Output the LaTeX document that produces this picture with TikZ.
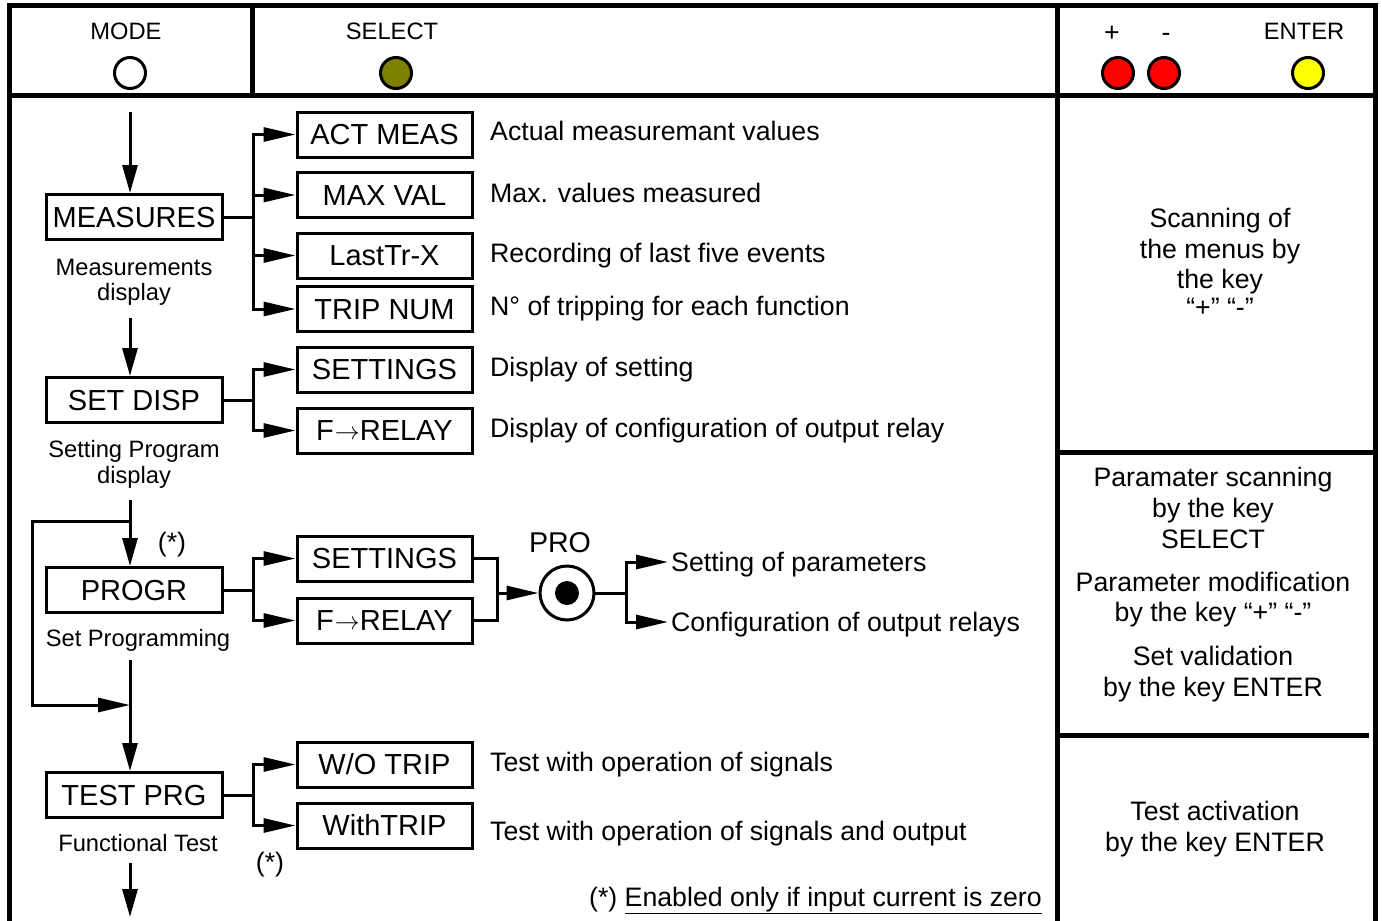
\documentclass[tikz,border=0pt]{standalone}
\usepackage{fontspec}
\setmainfont{Liberation Sans}
\usetikzlibrary{arrows.meta}
\definecolor{olivekey}{RGB}{128,128,0}
\definecolor{redkey}{RGB}{255,0,0}
\definecolor{yellowkey}{RGB}{255,255,0}
\newcommand{\frarrow}{\kern1pt\raisebox{1.5pt}{\fontsize{24}{24}\selectfont$\rightarrow$}\kern0pt}
\begin{document}
\begin{tikzpicture}[x=1pt,y=-1pt,
  frame/.style={line width=5pt, line join=miter},
  box/.style={draw, line width=3pt, minimum width=176pt, minimum height=45pt, inner sep=0pt,
    font=\fontsize{29}{30}\selectfont, text height=20.5pt, text depth=0pt},
  subbox/.style={box, minimum width=175pt},
  conn/.style={line width=3pt, line cap=rect},
  arr/.style={line width=3pt, -{Triangle[length=32pt,width=14pt]}},
  varr/.style={line width=3pt, -{Triangle[length=28pt,width=15pt]}},
  desc/.style={anchor=base west, inner sep=0pt, font=\fontsize{26.7}{31}\selectfont},
  desctip/.style={anchor=west, inner xsep=3pt, inner ysep=0pt, text height=19pt, text depth=0pt,
    font=\fontsize{26.7}{31}\selectfont},
  ctext/.style={anchor=base, inner sep=0pt, font=\fontsize{26.7}{31}\selectfont},
  small/.style={anchor=base, inner sep=0pt, font=\fontsize{23.7}{27}\selectfont},
  lamp/.style={circle, draw, line width=3pt, minimum size=31pt, inner sep=0pt},
]
\useasboundingbox (0,0) rectangle (1382,921);
\fill[white] (0,0) rectangle (1382,921);

% frame
\draw[frame] (9,921) -- (9,5) -- (1375,5) -- (1375,921);
\draw[frame] (9,95) -- (1375,95);
\draw[frame] (252,5) -- (252,95);
\draw[frame] (1057,5) -- (1057,921);
\draw[frame] (1057,452) -- (1375,452);
\draw[frame] (1057,735) -- (1369,735);

% header
\node[small] (lmode) at (126,39) {MODE};
\node[lamp, fill=white] (kmode) at (130,73) {};
\node[small] (lsel) at (392,39) {SELECT};
\node[lamp, fill=olivekey] (ksel) at (396,73) {};
\node[ctext] (lplus) at (1112,41) {+};
\node[ctext] (lminus) at (1166,41) {-};
\node[small] (lenter) at (1304,39) {ENTER};
\node[lamp, fill=redkey] (kplus) at (1118,73) {};
\node[lamp, fill=redkey] (kminus) at (1164,73) {};
\node[lamp, fill=yellowkey] (kenter) at (1308,73) {};

% main boxes
\node[box] (meas) at (134,217) {MEASURES};
\node[box] (setd) at (134,400) {SET DISP};
\node[box] (progr) at (134,590) {PROGR};
\node[box] (test) at (134,795) {TEST PRG};

\node[small] (m1a) at (134,275) {Measurements};
\node[small] (m1b) at (134,300) {display};
\node[small] (s1a) at (134,457) {Setting Program};
\node[small] (s1b) at (134,483) {display};
\node[small] (p1a) at (138,646) {Set Programming};
\node[small] (f1a) at (138,851) {Functional Test};
\node[ctext] (star1) at (172,551) {(*)};
\node[ctext] (star2) at (270,871) {(*)};

% sub boxes
\node[subbox] (act) at (384.5,134.5) {ACT MEAS};
\node[subbox] (maxv) at (384.5,195) {MAX VAL};
\node[subbox] (last) at (384.5,255.5) {LastTr-X};
\node[subbox] (tripn) at (384.5,309) {TRIP NUM};
\node[subbox] (sett1) at (384.5,369.5) {SETTINGS};
\node[subbox] (frel1) at (384.5,430.5) {F\frarrow RELAY};
\node[subbox] (sett2) at (384.5,558.5) {SETTINGS};
\node[subbox] (frel2) at (384.5,620.5) {F\frarrow RELAY};
\node[subbox] (wo) at (384.5,764.5) {W/O TRIP};
\node[subbox] (with) at (384.5,825.5) {WithTRIP};

% descriptions
\node[desc] (d1) at (490,140) {Actual measuremant values};
\node[desc] (d2) at (490,202) {Max. values measured};
\node[desc] (d3) at (490,262) {Recording of last five events};
\node[desc] (d4) at (490,315) {N° of tripping for each function};
\node[desc] (d5) at (490,376) {Display of setting};
\node[desc] (d6) at (490,437) {Display of configuration of output relay};
\node[desc] (d7) at (490,771) {Test with operation of signals};
\node[desc] (d8) at (490,840) {Test with operation of signals and output};

% vertical flow
\coordinate (t0) at (130,112);
\draw[varr] (t0) -- (meas.north -| t0);
\coordinate (t1) at (130,318);
\draw[varr] (t1) -- (setd.north -| t1);
\coordinate (t2) at (130,500);
\draw[varr] (t2) -- (progr.north -| t2);
\coordinate (t3) at (130,660);
\draw[varr] (t3) -- (test.north -| t3);
\coordinate (t4) at (130,863);
\coordinate (t5) at (130,917);
\draw[varr] (t4) -- (t5);
% loop
\coordinate (lp1) at (130,521);
\coordinate (lp2) at (130,705);
\coordinate (lx) at (32,0);
\draw[arr, line join=miter] (lp1) -- (lp1 -| lx) -- (lp2 -| lx) -- (lp2);

% branches: measures
\draw[conn] (meas.east) -- ++(30,0) coordinate (b1);
\draw[conn] (act.west -| b1) -- (tripn.west -| b1);
\foreach \n in {act,maxv,last,tripn} \draw[arr] (\n.west -| b1) -- (\n.west);
% set disp
\draw[conn] (setd.east) -- ++(30,0) coordinate (b2);
\draw[conn] (sett1.west -| b2) -- (frel1.west -| b2);
\foreach \n in {sett1,frel1} \draw[arr] (\n.west -| b2) -- (\n.west);
% progr
\draw[conn] (progr.east) -- ++(30,0) coordinate (b3);
\draw[conn] (sett2.west -| b3) -- (frel2.west -| b3);
\foreach \n in {sett2,frel2} \draw[arr] (\n.west -| b3) -- (\n.west);
% test
\draw[conn] (test.east) -- ++(30,0) coordinate (b4);
\draw[conn] (wo.west -| b4) -- (with.west -| b4);
\foreach \n in {wo,with} \draw[arr] (\n.west -| b4) -- (\n.west);

% PRO
\node[circle, draw, line width=3pt, minimum size=54pt, inner sep=0pt] (pro) at (567,593) {};
\node[circle, fill, minimum size=24pt, inner sep=0pt] (proin) at (pro.center) {};
\node[anchor=base, inner sep=0pt, font=\fontsize{28.6}{30}\selectfont] (prol) at (560,552) {PRO};
\draw[conn, line join=miter] (sett2.east) -- ++(24,0) coordinate (mg) -- (mg |- frel2.east) -- (frel2.east);
\draw[arr] (mg |- pro.west) -- (pro.west);
\node[desctip] (sp) at (668,562) {Setting of parameters};
\node[desctip] (cr) at (668,622) {Configuration of output relays};
\draw[conn] (pro.east) -- ++(31,0) coordinate (ob);
\draw[conn] (ob |- sp.west) -- (ob |- cr.west);
\foreach \n in {sp,cr} \draw[arr] (ob |- \n.west) -- (\n.west);

% footnote
\node[anchor=base east, inner sep=0pt, font=\fontsize{26.7}{31}\selectfont] (note) at (1042,906)
  {(*) \underline{Enabled only if input current is zero}};

% right column
\node[ctext] (r1) at (1220,227) {Scanning of};
\node[ctext] (r2) at (1220,258) {the menus by};
\node[ctext] (r3) at (1220,288) {the key};
\node[ctext] (r4) at (1220,316) {“+” “-”};
\node[ctext] (q1) at (1213,486.5) {Paramater scanning};
\node[ctext] (q2) at (1213,517.5) {by the key};
\node[ctext] (q3) at (1213,548.5) {SELECT};
\node[ctext] (q4) at (1213,591.5) {Parameter modification};
\node[ctext] (q5) at (1213,621.5) {by the key “+” “-”};
\node[ctext] (q6) at (1213,665) {Set validation};
\node[ctext] (q7) at (1213,696) {by the key ENTER};
\node[ctext] (u1) at (1215,820.5) {Test activation};
\node[ctext] (u2) at (1215,851.5) {by the key ENTER};
\end{tikzpicture}
\end{document}
